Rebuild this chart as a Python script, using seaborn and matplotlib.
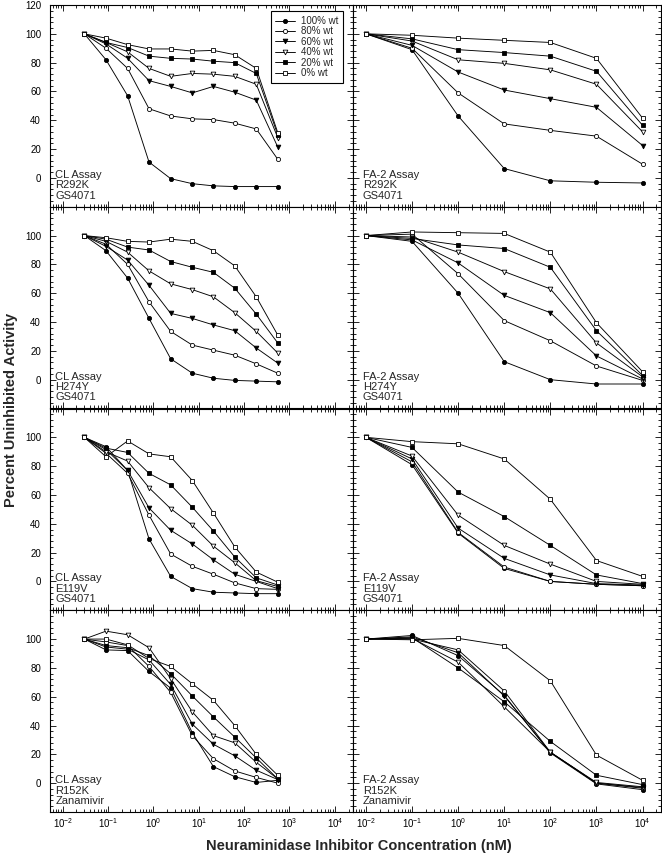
import matplotlib
matplotlib.use("Agg")
import matplotlib.pyplot as plt
import seaborn as sns
from matplotlib.ticker import MultipleLocator, LogLocator, NullFormatter

# concentrations (nM)
conc_cl = [0.03, 0.09, 0.27, 0.8, 2.4, 7.2, 21, 62, 185, 550]
conc_fa = [0.01, 0.1, 1, 10, 100, 1000, 10000]

series = ["100% wt", "80% wt", "60% wt", "40% wt", "20% wt", "0% wt"]

# percent uninhibited activity, one row per series (100% wt ... 0% wt)
cl_r292k = [
    [100, 82, 57, 11, -0.5, -4, -5.5, -6, -6, -6],
    [100, 90, 76, 48, 43, 41, 40.5, 38, 34, 13],
    [100, 93, 83, 67.5, 63.5, 59, 63.5, 59.5, 54, 21.5],
    [100, 94, 87.5, 76, 70.5, 72.5, 72, 70.5, 65, 28],
    [100, 94, 90.5, 84.5, 83, 82.5, 81, 80, 72.5, 30],
    [100, 97, 92.5, 89.5, 89.5, 88, 88.5, 85.5, 76, 31.5],
]
fa_r292k = [
    [100, 89, 43, 6.5, -2, -3, -3.5],
    [100, 90, 59, 37.5, 33, 29, 9.5],
    [100, 92, 73.5, 61, 55, 49, 22.5],
    [100, 95, 82, 79.5, 75, 65, 32],
    [100, 96.5, 89, 87, 84.5, 74, 36.5],
    [100, 99, 97, 95.5, 94, 83, 41.5],
]
cl_h274y = [
    [100, 89.5, 70.5, 42.5, 14.5, 4.5, 1, -0.5, -1, -1.5],
    [100, 94, 80, 54, 33.5, 24, 20.5, 17, 11, 4.5],
    [100, 92.5, 83, 65.5, 46, 42.5, 38, 34, 22, 11.5],
    [100, 96, 88.5, 75.5, 66.5, 62.5, 57.5, 46.5, 33.5, 18.5],
    [100, 97.5, 92, 90, 82, 78, 74.5, 63.5, 45.5, 25.5],
    [100, 98.5, 96, 95.5, 97.5, 96, 89.5, 79, 57.5, 31],
]
fa_h274y = [
    [100, 96, 60, 12.5, 0, -3, -3],
    [100, 101, 73.5, 41, 27, 9.5, -0.5],
    [100, 97, 81, 58.5, 46.5, 16.5, 0.5],
    [100, 99, 88.5, 75, 63, 25.5, 2],
    [100, 98, 93.5, 91, 78, 34, 3],
    [100, 102.5, 102, 101.5, 88.5, 39.5, 5.5],
]
cl_e119v = [
    [100, 93.5, 77, 29.5, 3.5, -5, -7.5, -8, -8.5, -8.5],
    [100, 89, 75, 46, 19, 10.5, 5, -1, -5, -5.5],
    [100, 91.5, 77, 51, 35.5, 26, 15, 5, 0, -5],
    [100, 90, 83.5, 65, 50.5, 39, 24.5, 13, 0.5, -3.5],
    [100, 92.5, 89.5, 75, 67, 51.5, 35, 17, 2.5, -2.5],
    [100, 86.5, 97.5, 88.5, 86.5, 70, 47.5, 24, 6.5, -0.5],
]
fa_e119v = [
    [100, 81, 33.5, 9, 0, -2, -3],
    [100, 83, 34, 10, 0, -2, -3],
    [100, 85, 37, 16, 4.5, -1.5, -2.5],
    [100, 87, 46, 25, 12, 0, -2],
    [100, 93, 62, 45, 25, 4.5, -1.5],
    [100, 97, 95.5, 85, 57, 14.5, 3.5],
]
cl_r152k = [
    [100, 92.5, 92, 77.5, 66, 35, 11.5, 4.5, 0.5, 2],
    [100, 98, 95.5, 81, 63, 33, 17, 8.5, 4, 0],
    [100, 94.5, 93, 85.5, 68.5, 41, 27, 19, 9, 2.5],
    [100, 105.5, 103, 94, 72.5, 49.5, 33, 28, 14.5, 3],
    [100, 95.5, 94, 88.5, 76, 60.5, 46, 32, 17.5, 3],
    [100, 100, 96, 86.5, 81, 69, 57.5, 40, 20, 5.5],
]
fa_r152k = [
    [100, 102.5, 88.5, 61, 21, -0.5, -4.5],
    [100, 100, 92.5, 64, 21.5, 0, -3],
    [100, 101.5, 90.5, 60.5, 21.5, 0, -3.5],
    [100, 100.5, 84, 53, 21.5, 0.5, -2.5],
    [100, 101, 80, 56.5, 29, 5.5, -1],
    [100, 99.5, 100.5, 95.5, 71, 19.5, 2],
]

panels = [
    (cl_r292k, conc_cl, "CL Assay\nR292K\nGS4071"),
    (fa_r292k, conc_fa, "FA-2 Assay\nR292K\nGS4071"),
    (cl_h274y, conc_cl, "CL Assay\nH274Y\nGS4071"),
    (fa_h274y, conc_fa, "FA-2 Assay\nH274Y\nGS4071"),
    (cl_e119v, conc_cl, "CL Assay\nE119V\nGS4071"),
    (fa_e119v, conc_fa, "FA-2 Assay\nE119V\nGS4071"),
    (cl_r152k, conc_cl, "CL Assay\nR152K\nZanamivir"),
    (fa_r152k, conc_fa, "FA-2 Assay\nR152K\nZanamivir"),
]

markers = ["o", "o", "v", "v", "s", "s"]
faces = ["black", "white", "black", "white", "black", "white"]

sns.set_theme(style="ticks", rc={
    "axes.edgecolor": "black",
    "axes.linewidth": 0.8,
    "xtick.color": "black",
    "ytick.color": "black",
    "mathtext.default": "regular",
})
plt.rcParams["font.family"] = ["Liberation Sans", "DejaVu Sans"]

fig, axes = plt.subplots(4, 2, figsize=(6.62, 8.57), dpi=100,
                         gridspec_kw={"width_ratios": [303, 308]})
fig.subplots_adjust(left=50 / 662, right=661 / 662, top=1 - 5 / 857,
                    bottom=1 - 812 / 857, wspace=0, hspace=0)

for i, (ax, (values, conc, note)) in enumerate(zip(axes.flat, panels)):
    row, col = divmod(i, 2)
    for lab, ys, m, fc in zip(series, values, markers, faces):
        sns.lineplot(x=conc, y=ys, ax=ax, color="black", lw=0.65,
                     marker=m, ms=3.4 if m == "v" else 3.0,
                     markerfacecolor=fc, markeredgecolor="black",
                     markeredgewidth=0.6, label=lab, legend=False)

    ax.set_xscale("log")
    ax.set_xlim(10 ** -2.28, 10 ** 4.4)
    ax.set_ylim(-20, 120)
    ax.set_xlabel("")
    ax.set_ylabel("")

    ax.set_yticks(range(-20, 121, 20))
    if col == 0:
        ylabels = [""] + [str(v) for v in range(0, 101, 20)]
        ylabels.append("120" if row == 0 else "")
        ax.set_yticklabels(ylabels)
    else:
        ax.tick_params(labelleft=False)
    ax.yaxis.set_minor_locator(MultipleLocator(4))

    ax.set_xticks([1e-2, 1e-1, 1e0, 1e1, 1e2, 1e3, 1e4])
    ax.xaxis.set_minor_locator(LogLocator(base=10, subs=range(2, 10), numticks=20))
    ax.xaxis.set_minor_formatter(NullFormatter())
    if row < 3:
        ax.tick_params(labelbottom=False)

    ax.tick_params(which="both", direction="in", top=True, right=True,
                   width=0.6, labelsize=7)
    ax.tick_params(which="major", length=4)
    ax.tick_params(which="minor", length=2)
    ax.tick_params(axis="y", pad=6.5)
    ax.tick_params(axis="x", pad=3)

    ax.text(0.018 if col == 0 else 0.032, 0.03, note, transform=ax.transAxes,
            ha="left", va="bottom", fontsize=8, linespacing=1.05)

    if i == 0:
        leg = ax.legend(loc="upper right", bbox_to_anchor=(0.967, 0.97),
                        fontsize=7, frameon=True, fancybox=False,
                        edgecolor="black", framealpha=1, borderpad=0.5,
                        labelspacing=0.05, handlelength=2.0,
                        handletextpad=0.6, borderaxespad=0)
        leg.get_frame().set_linewidth(0.8)

fig.text(11 / 662, 1 - 410 / 857, "Percent Uninhibited Activity",
         rotation=90, ha="center", va="center", fontsize=10.5, fontweight="bold")
fig.text(359 / 662, 1 - 846 / 857, "Neuraminidase Inhibitor Concentration (nM)",
         ha="center", va="center", fontsize=10.5, fontweight="bold")

plt.savefig("out.png", dpi=100)
